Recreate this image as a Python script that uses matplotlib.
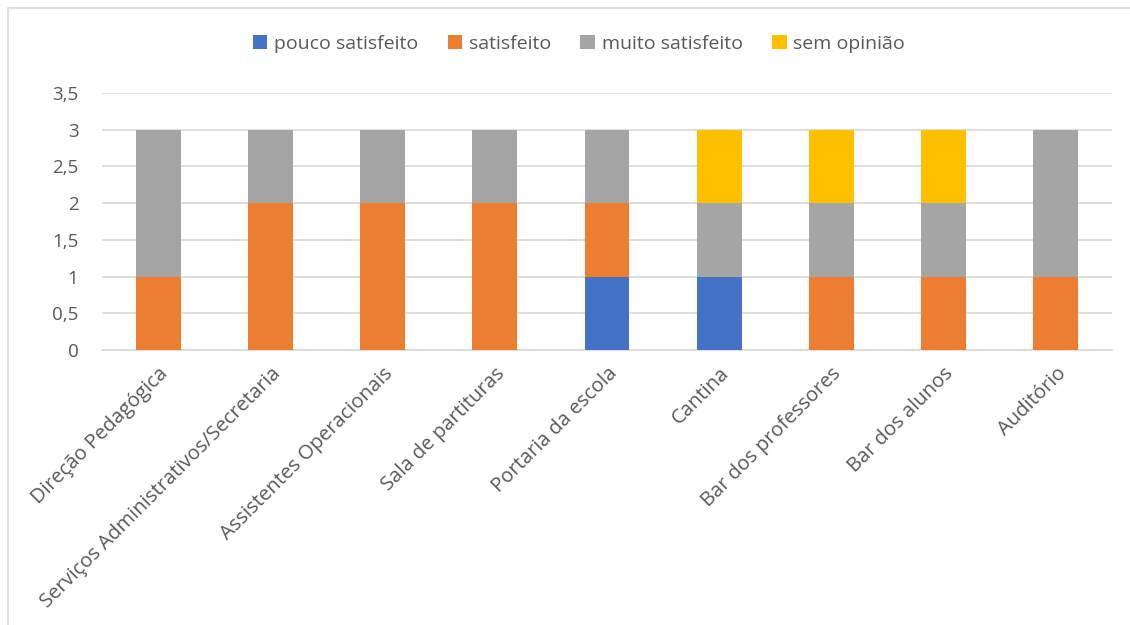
import matplotlib.pyplot as plt
import numpy as np
from matplotlib.patches import Rectangle

plt.rcParams['font.family'] = ['Open Sans', 'DejaVu Sans']

categorias = ["Direção Pedagógica", "Serviços Administrativos/Secretaria",
              "Assistentes Operacionais", "Sala de partituras", "Portaria da escola",
              "Cantina", "Bar dos professores", "Bar dos alunos", "Auditório"]
pouco_satisfeito = [0, 0, 0, 0, 1, 1, 0, 0, 0]
satisfeito = [1, 2, 2, 2, 1, 0, 1, 1, 1]
muito_satisfeito = [2, 1, 1, 1, 1, 1, 1, 1, 2]
sem_opiniao = [0, 0, 0, 0, 0, 1, 1, 1, 0]

series = [("pouco satisfeito", pouco_satisfeito, "#4472C4"),
          ("satisfeito", satisfeito, "#ED7D31"),
          ("muito satisfeito", muito_satisfeito, "#A5A5A5"),
          ("sem opinião", sem_opiniao, "#FFC000")]

fig = plt.figure(figsize=(11.3, 6.25), dpi=100)
ax = fig.add_axes([102/1130, 1-350/625, 1010/1130, 257/625])

x = np.arange(len(categorias))
base = np.zeros(len(categorias))
for nome, vals, cor in series:
    ax.bar(x, vals, 0.4, bottom=base, color=cor, label=nome, zorder=3)
    base = base + np.array(vals)

ax.set_xlim(-0.5, len(categorias) - 0.5)
ax.set_ylim(0, 3.5)
ax.set_yticks(np.arange(0, 3.51, 0.5))
ax.set_yticklabels(["0", "0,5", "1", "1,5", "2", "2,5", "3", "3,5"])
ax.set_xticks(x)
ax.set_xticklabels(categorias, rotation=45, ha="right", va="top", rotation_mode="anchor")
ax.tick_params(axis="both", length=0, colors="#595959")
ax.tick_params(axis="y", pad=17, labelsize=13.5)
ax.tick_params(axis="x", pad=10, labelsize=14.5)
ax.grid(axis="y", color="#D9D9D9", linewidth=1.2, zorder=0)
for s in ["top", "right", "left"]:
    ax.spines[s].set_visible(False)
ax.spines["bottom"].set_color("#D9D9D9")
ax.spines["bottom"].set_linewidth(1.2)

leg = fig.legend(loc="center", bbox_to_anchor=(579/1130, 1-44/625), ncol=4, frameon=False,
                 fontsize=14, handlelength=0.75, handleheight=0.75, handletextpad=0.35,
                 columnspacing=1.5, labelcolor="#595959")

fig.add_artist(Rectangle((8/1130, -0.1), 1.2, 1-8/625+0.1, transform=fig.transFigure,
                         fill=False, edgecolor="#D9D9D9", linewidth=1.2))

fig.savefig("out.png", dpi=100)
